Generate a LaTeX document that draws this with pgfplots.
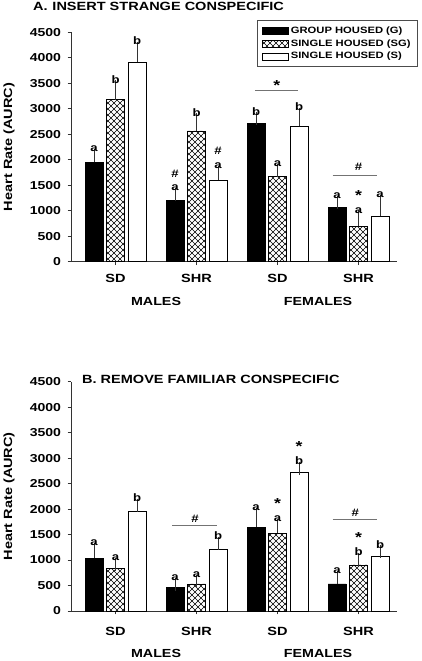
\documentclass[border=0pt]{standalone}
\usepackage{pgfplots}
\pgfplotsset{compat=1.18}
\usepackage{fontspec}
\setmainfont{Liberation Sans}[FakeStretch=1.22]
\usetikzlibrary{patterns}
\pgfdeclarepatternformonly{dcross}{\pgfqpoint{-1pt}{-1pt}}{\pgfqpoint{7pt}{7pt}}{\pgfqpoint{6pt}{6pt}}{%
 \pgfsetlinewidth{0.45pt}%
 \pgfpathmoveto{\pgfqpoint{0pt}{0pt}}\pgfpathlineto{\pgfqpoint{6pt}{6pt}}%
 \pgfpathmoveto{\pgfqpoint{0pt}{6pt}}\pgfpathlineto{\pgfqpoint{6pt}{0pt}}%
 \pgfusepath{stroke}}
\newcommand{\lf}{\bfseries\fontsize{10.8}{16}\selectfont}
\newcommand{\st}{{\fontsize{14.5}{16}\selectfont *}}
\def\d{0.2654}
\tikzset{
  lab/.style={font=\lf, anchor=south, inner sep=0pt, yshift=3.5pt, align=center},
  grp/.style={font=\bfseries\fontsize{11.7}{14}\selectfont, anchor=center, inner sep=0pt},
  ylab/.style={font=\bfseries\fontsize{11.9}{14}\selectfont, anchor=center, inner sep=0pt, rotate=90},
  gline/.style={black!55, line width=0.6pt},
}
\pgfplotsset{
 mybase/.style={
  scale only axis, width=326pt, height=229.4pt,
  xmin=-0.55, xmax=3.475, ymin=0, ymax=4500,
  axis x line*=bottom, axis y line*=left,
  axis line style={-, line width=0.6pt, black!80},
  ytick={0,500,1000,1500,2000,2500,3000,3500,4000,4500},
  yticklabels={0,500,1000,1500,2000,2500,3000,3500,4000,4500},
  xtick={0,1,2,3}, xticklabels={SD,SHR,SD,SHR},
  tick align=outside, major tick length=3.5pt, tick style={black!80, line width=0.6pt},
  /pgf/number format/assume math mode=true,
  yticklabel style={font=\bfseries\fontsize{11.5}{13}\selectfont, anchor=east, inner sep=0pt, xshift=-6.3pt},
  xticklabel style={font=\bfseries\fontsize{11.9}{13}\selectfont, anchor=center, inner sep=0pt},
  clip=false,
  ybar, bar width=18pt,
  error bars/y dir=plus, error bars/y explicit,
  error bars/error bar style={line width=0.6pt, black!80},
  error bars/error mark options={mark size=6.5pt, line width=0.6pt, black!80},
 },
 barG/.style={fill=black, draw=black, line width=0.5pt, bar shift=-21.5pt},
 barSG/.style={fill=white, draw=black, line width=0.5pt, postaction={pattern=dcross}, bar shift=0pt},
 barS/.style={fill=white, draw=black, line width=0.5pt, bar shift=21.5pt},
 limg/.style={legend image code/.code={\draw[##1, bar shift=0pt] (0pt,-3.5pt) rectangle (26pt,3.5pt);}},
}
\begin{document}
\begin{tikzpicture}
\useasboundingbox (0,0) rectangle (422pt,661pt);
\node[anchor=base west, inner sep=0pt, font=\bfseries\fontsize{11.9}{14}\selectfont] at (33pt,650pt) {A.\hspace{0.4em}INSERT STRANGE CONSPECIFIC};
\node[anchor=base west, inner sep=0pt, font=\bfseries\fontsize{11.9}{14}\selectfont] at (82pt,277pt) {B. REMOVE FAMILIAR CONSPECIFIC};
% Panel A
\begin{axis}[mybase, at={(71pt,399.3pt)}, anchor=south west,
  xticklabel style={yshift=-13pt},
  legend style={at={(axis description cs:1.064,1.052)}, anchor=north east,
    draw=black!70, line width=0.6pt, fill=white, font=\bfseries\fontsize{9.2}{11}\selectfont,
    row sep=0.6pt, inner xsep=5pt, inner ysep=4pt, legend cell align=left,
    /tikz/every even column/.append style={column sep=6pt}}]
\addplot[barG, limg] table[x=x,y=y,y error=e] {
x y e
0 1950 130
1 1210 110
2 2710 90
3 1065 100
};
\addlegendentry{GROUP HOUSED (G)}
\addplot[barSG, limg] table[x=x,y=y,y error=e] {
x y e
0 3180 250
1 2565 215
2 1675 120
3 693 185
};
\addlegendentry{SINGLE HOUSED (SG)}
\addplot[barS, limg] table[x=x,y=y,y error=e] {
x y e
0 3910 275
1 1600 155
2 2655 235
3 890 295
};
\addlegendentry{SINGLE HOUSED (S)}
\node[ylab] at ([xshift=-62pt]axis description cs:0,0.5) {Heart Rate (AURC)};
\node[lab] at (axis cs:-\d,2080) {a};
\node[lab] at (axis cs:0,3430) {b};
\node[lab] at (axis cs:\d,4185) {b};
\node[lab] at (axis cs:1-\d,1320) {\#\\[-2.5pt]a};
\node[lab] at (axis cs:1,2780) {b};
\node[lab] at (axis cs:1+\d,1755) {\#\\[-2.5pt]a};
\node[lab] at (axis cs:2-\d,2800) {b};
\node[lab] at (axis cs:2,1795) {a};
\node[lab] at (axis cs:2+\d,2890) {b};
\draw[gline] (axis cs:1.72,3355) -- (axis cs:2.25,3355);
\node[font=\lf, anchor=base, inner sep=0pt] at (axis cs:1.99,3350) {\st};
\node[lab] at (axis cs:3-\d,1165) {a};
\node[lab] at (axis cs:3,878) {\st\\[-3pt]a};
\node[lab] at (axis cs:3+\d,1185) {a};
\draw[gline] (axis cs:2.68,1687) -- (axis cs:3.23,1687);
\node[font=\lf, anchor=base, inner sep=0pt] at (axis cs:3.0,1796) {\#};
\node[grp] at (axis cs:0.5,0) [yshift=-40pt] {MALES};
\node[grp] at (axis cs:2.5,0) [yshift=-40pt] {FEMALES};
\end{axis}
% Panel B
\begin{axis}[mybase, at={(71pt,50pt)}, anchor=south west, xticklabel style={yshift=-17pt}]
\addplot[barG] table[x=x,y=y,y error=e] {
x y e
0 1035 175
1 470 55
2 1645 255
3 530 130
};
\addplot[barSG] table[x=x,y=y,y error=e] {
x y e
0 837 80
1 530 45
2 1530 145
3 905 100
};
\addplot[barS] table[x=x,y=y,y error=e] {
x y e
0 1950 125
1 1210 118
2 2715 85
3 1073 85
};
\node[ylab] at ([xshift=-62pt]axis description cs:0,0.5) {Heart Rate (AURC)};
\node[lab] at (axis cs:-\d,1210) {a};
\node[lab] at (axis cs:0,917) {a};
\node[lab] at (axis cs:\d,2075) {b};
\node[lab] at (axis cs:1-\d,525) {a};
\node[lab] at (axis cs:1,575) {a};
\node[lab] at (axis cs:1+\d,1328) {b};
\draw[gline] (axis cs:0.697,1681) -- (axis cs:1.252,1681);
\node[font=\lf, anchor=base, inner sep=0pt] at (axis cs:0.98,1730) {\#};
\node[lab] at (axis cs:2-\d,1900) {a};
\node[lab] at (axis cs:2,1675) {\st\\[-3pt]a};
\node[lab] at (axis cs:2+\d,2800) {\st\\[-3pt]b};
\node[lab] at (axis cs:3-\d,660) {a};
\node[lab] at (axis cs:3,1005) {\st\\[-3pt]b};
\node[lab] at (axis cs:3+\d,1158) {b};
\draw[gline] (axis cs:2.68,1799) -- (axis cs:3.23,1799);
\node[font=\lf, anchor=base, inner sep=0pt] at (axis cs:2.96,1862) {\#};
\node[grp] at (axis cs:0.5,0) [yshift=-42pt] {MALES};
\node[grp] at (axis cs:2.5,0) [yshift=-42pt] {FEMALES};
\end{axis}
\end{tikzpicture}
\end{document}
